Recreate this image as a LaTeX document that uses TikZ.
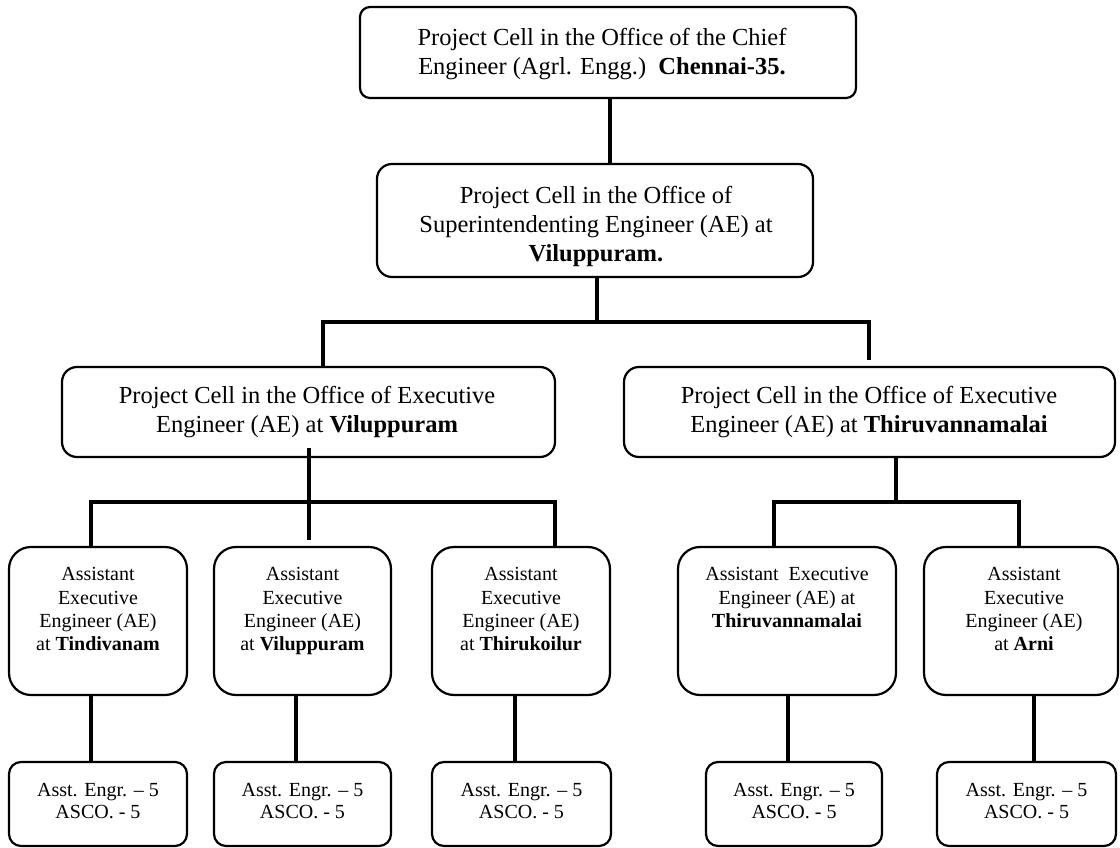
\documentclass[tikz,border=0pt]{standalone}
\usepackage{fontspec}
\setmainfont{Liberation Serif}
\newcommand\fbig{\fontsize{24.5}{29}\selectfont}
\newcommand\fsmall{\fontsize{20}{23.3}\selectfont}
\newcommand\fsmallb{\fontsize{20}{22}\selectfont}
\begin{document}
\begin{tikzpicture}[x=1pt,y=-1pt,
  conn/.style={line width=3.3pt},
  box/.style={draw, line width=2.2pt, rounded corners=#1, inner sep=0pt},
  box/.default=12pt,
  txt/.style={inner sep=0pt, align=center, anchor=north}]
\fill[white] (0,0) rectangle (1120,848);
\useasboundingbox (0,0) rectangle (1120,848);

% boxes
\node[box=10pt, minimum width=496pt, minimum height=91pt] (top) at (608,52.5) {};
\node[box=15pt, minimum width=436pt, minimum height=113pt] (se) at (595,220.5) {};
\node[box=15pt, minimum width=493pt, minimum height=90pt] (eeL) at (308.5,412) {};
\node[box=15pt, minimum width=491pt, minimum height=90pt] (eeR) at (869.5,412) {};
\node[box=22pt, minimum width=178pt, minimum height=148pt] (a1) at (98,621) {};
\node[box=22pt, minimum width=177pt, minimum height=148pt] (a2) at (302.5,621) {};
\node[box=22pt, minimum width=178pt, minimum height=148pt] (a3) at (521,621) {};
\node[box=22pt, minimum width=218pt, minimum height=148pt] (a4) at (787,621) {};
\node[box=22pt, minimum width=194pt, minimum height=148pt] (a5) at (1021,621) {};
\node[box=12pt, minimum width=178pt, minimum height=84pt] (b1) at (98,804) {};
\node[box=12pt, minimum width=177pt, minimum height=84pt] (b2) at (302.5,804) {};
\node[box=12pt, minimum width=179pt, minimum height=84pt] (b3) at (521.5,804) {};
\node[box=12pt, minimum width=176pt, minimum height=84pt] (b4) at (794,804) {};
\node[box=12pt, minimum width=179pt, minimum height=84pt] (b5) at (1026.5,804) {};

% texts
\node[txt, font=\fbig] (ttop) at (602,28.3) {Project Cell in the Office of the Chief\\Engineer (Agrl. Engg.)\ \ \textbf{Chennai-35.}};
\node[txt, font=\fbig] (tse) at (596,186.3) {Project Cell in the Office of\\Superintendenting Engineer (AE) at\\\textbf{Viluppuram.}};
\node[txt, font=\fbig] (teeL) at (307,386.3) {Project Cell in the Office of Executive\\Engineer (AE) at \textbf{Viluppuram}};
\node[txt, font=\fbig] (teeR) at (869,386.3) {Project Cell in the Office of Executive\\Engineer (AE) at \textbf{Thiruvannamalai}};
\node[txt, font=\fsmall] (ta1) at (98,567.3) {Assistant\\Executive\\Engineer (AE)\\at \textbf{Tindivanam}};
\node[txt, font=\fsmall] (ta2) at (302.5,567.3) {Assistant\\Executive\\Engineer (AE)\\at \textbf{Viluppuram}};
\node[txt, font=\fsmall] (ta3) at (521,567.3) {Assistant\\Executive\\Engineer (AE)\\at \textbf{Thirukoilur}};
\node[txt, font=\fsmall] (ta4) at (787,567.3) {Assistant\ \ Executive\\Engineer (AE) at\\\textbf{Thiruvannamalai}};
\node[txt, font=\fsmall] (ta5) at (1024,567.3) {Assistant\\Executive\\Engineer (AE)\\at \textbf{Arni}};
\foreach \i in {1,...,5}{
  \node[txt, font=\fsmallb] (tb\i) at ([yshift=-22.5pt]b\i.north) {Asst. Engr. -- 5\\ASCO. - 5};
}

% connectors
\coordinate (c1) at (610,0);
\coordinate (c2) at (597,0);
\coordinate (tL) at (323,322);
\coordinate (tR) at (869,322);
\coordinate (tRe) at (869,360);
\draw[conn] (top.south -| c1) -- (se.north -| c1);
\draw[conn] (se.south -| c2) -- (c2 |- tL);
\draw[conn] (eeL.north -| tL) -- (tL) -- (tR) -- (tRe);

\coordinate (mL) at (309,448);
\coordinate (mLe) at (309,540);
\coordinate (bL1) at (91,502);
\coordinate (bL2) at (555,502);
\draw[conn] (mL) -- (mLe);
\draw[conn] (a1.north -| bL1) -- (bL1) -- (bL2) -- (a3.north -| bL2);

\coordinate (rB) at (896,502);
\coordinate (bR1) at (774,502);
\coordinate (bR2) at (1019,502);
\draw[conn] (eeR.south -| rB) -- (rB);
\draw[conn] (a4.north -| bR1) -- (bR1) -- (bR2) -- (a5.north -| bR2);

\foreach \i/\x in {1/91,2/296,3/515,4/788,5/1034}{
  \coordinate (v\i) at (\x,0);
  \draw[conn] (a\i.south -| v\i) -- (b\i.north -| v\i);
}
\end{tikzpicture}
\end{document}
